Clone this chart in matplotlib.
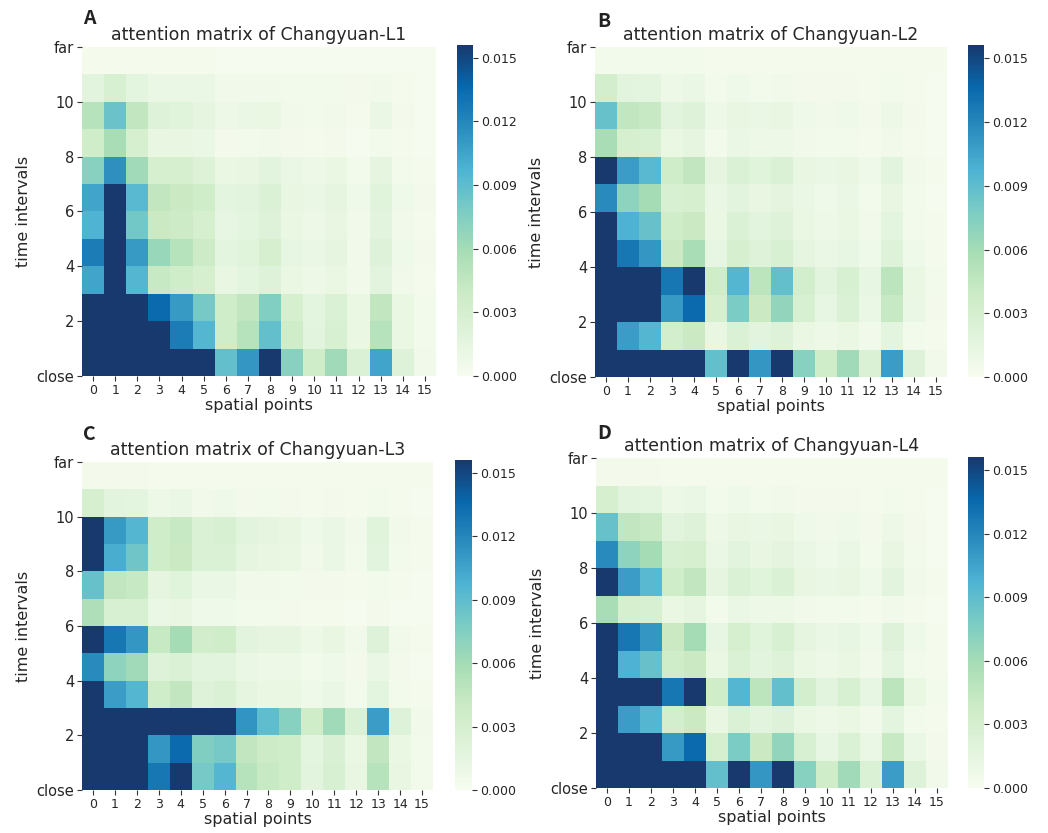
import numpy as np
import matplotlib
matplotlib.use("Agg")
from matplotlib import pyplot as plt
from matplotlib.colors import LinearSegmentedColormap

# attention weights (x 1e-3), rows listed top (far) -> bottom (close), cols = spatial points 0..15
attn_L1 = [
    [0.3, 0.3, 0.3, 0.3, 0.3, 0.3, 0.2, 0.2, 0.2, 0.2, 0.2, 0.2, 0.2, 0.2, 0.2, 0.2],
    [1.8, 2.8, 1.6, 1.0, 1.0, 1.0, 0.6, 0.6, 0.6, 0.5, 0.5, 0.5, 0.4, 0.6, 0.3, 0.2],
    [5.0, 8.5, 4.5, 2.2, 2.0, 1.5, 0.8, 1.0, 1.2, 0.6, 0.5, 0.6, 0.3, 1.0, 0.4, 0.2],
    [3.5, 5.8, 3.0, 1.3, 1.3, 1.0, 0.4, 0.5, 0.6, 0.4, 0.3, 0.4, 0.2, 0.5, 0.3, 0.2],
    [7.2, 11.5, 6.2, 3.0, 3.0, 2.3, 1.2, 1.3, 1.8, 1.0, 0.8, 1.2, 0.5, 1.5, 0.5, 0.3],
    [10.5, 18, 9.3, 4.5, 4.0, 3.5, 1.6, 1.8, 2.5, 1.3, 1.0, 1.5, 0.7, 2.0, 0.7, 0.4],
    [9.7, 18, 8.2, 4.0, 3.8, 3.0, 1.4, 1.6, 2.2, 1.2, 0.9, 1.3, 0.6, 1.8, 0.6, 0.3],
    [12.5, 18, 11.0, 6.5, 5.0, 3.8, 1.6, 2.0, 3.0, 1.4, 1.0, 1.5, 0.6, 2.2, 0.7, 0.4],
    [10.5, 18, 9.5, 4.2, 3.5, 3.0, 1.3, 1.6, 2.2, 1.2, 0.8, 1.2, 0.6, 1.8, 0.6, 0.3],
    [18, 18, 18, 13.5, 11.0, 8.0, 3.5, 4.5, 7.5, 3.0, 1.6, 2.5, 1.2, 4.5, 1.2, 0.5],
    [18, 18, 18, 18, 12.5, 9.5, 3.5, 5.0, 8.8, 3.5, 1.8, 2.8, 1.2, 5.0, 1.2, 0.5],
    [18, 18, 18, 18, 18, 18, 8.8, 11.2, 18, 7.2, 3.5, 6.2, 2.5, 10.5, 2.2, 0.6],
]
attn_L2 = [
    [0.5, 0.5, 0.5, 0.5, 0.5, 0.3, 0.3, 0.3, 0.3, 0.3, 0.3, 0.3, 0.3, 0.3, 0.3, 0.3],
    [3.2, 1.8, 1.6, 0.8, 1.0, 0.5, 0.7, 0.5, 0.6, 0.4, 0.4, 0.4, 0.3, 0.5, 0.3, 0.2],
    [8.7, 4.5, 4.2, 1.8, 2.2, 0.8, 1.3, 1.0, 1.3, 0.7, 0.6, 0.7, 0.4, 0.9, 0.4, 0.2],
    [5.8, 3.0, 2.8, 1.2, 1.5, 0.5, 1.0, 0.8, 0.9, 0.6, 0.5, 0.5, 0.3, 0.6, 0.3, 0.2],
    [18, 10.8, 9.3, 3.5, 4.5, 1.5, 2.5, 2.0, 2.5, 1.3, 1.0, 1.3, 0.7, 1.8, 0.6, 0.3],
    [11.8, 7.0, 6.0, 2.8, 3.0, 1.0, 1.8, 1.3, 1.7, 1.0, 0.7, 1.0, 0.5, 1.3, 0.5, 0.2],
    [18, 9.8, 8.6, 3.5, 4.0, 1.2, 2.5, 1.8, 2.2, 1.2, 0.9, 1.2, 0.6, 1.6, 0.5, 0.3],
    [18, 12.8, 11.2, 4.0, 5.8, 1.4, 3.0, 2.2, 2.8, 1.5, 1.0, 1.4, 0.7, 2.2, 0.7, 0.3],
    [18, 18, 18, 12.8, 18, 3.5, 9.5, 4.8, 8.8, 3.2, 1.8, 2.8, 1.4, 4.8, 1.2, 0.5],
    [18, 18, 18, 11.0, 13.5, 3.0, 7.8, 4.0, 6.8, 2.8, 1.4, 2.5, 1.0, 4.2, 1.0, 0.4],
    [18, 10.8, 9.5, 3.2, 4.0, 1.3, 2.5, 1.8, 2.2, 1.2, 0.8, 1.2, 0.6, 1.6, 0.5, 0.3],
    [18, 18, 18, 18, 18, 8.8, 18, 11.2, 18, 7.3, 3.5, 6.2, 2.5, 10.8, 2.2, 0.6],
]
attn_L3 = [
    [0.4, 0.4, 0.4, 0.3, 0.3, 0.3, 0.3, 0.3, 0.3, 0.3, 0.3, 0.3, 0.3, 0.3, 0.3, 0.3],
    [3.0, 1.8, 1.6, 0.8, 1.0, 0.6, 0.7, 0.4, 0.5, 0.4, 0.3, 0.4, 0.3, 0.5, 0.3, 0.2],
    [18, 11.0, 9.5, 3.5, 4.2, 2.5, 2.8, 1.8, 1.5, 1.3, 0.7, 1.1, 0.6, 2.0, 0.6, 0.3],
    [18, 10.0, 8.3, 3.5, 4.0, 2.5, 2.5, 1.5, 1.3, 1.2, 0.6, 1.0, 0.5, 1.8, 0.5, 0.3],
    [8.7, 4.5, 4.2, 1.5, 2.0, 1.0, 1.0, 0.6, 0.6, 0.5, 0.4, 0.4, 0.3, 0.5, 0.3, 0.2],
    [5.5, 2.8, 2.8, 1.0, 1.3, 0.7, 0.7, 0.5, 0.5, 0.4, 0.3, 0.3, 0.2, 0.4, 0.2, 0.2],
    [18, 12.8, 11.2, 4.2, 6.0, 3.3, 3.5, 1.8, 1.5, 1.5, 0.8, 1.3, 0.6, 2.2, 0.6, 0.3],
    [11.8, 7.0, 6.2, 2.2, 2.5, 1.8, 1.8, 1.0, 0.9, 0.9, 0.5, 0.7, 0.4, 1.1, 0.4, 0.2],
    [18, 10.8, 9.5, 3.5, 4.5, 2.2, 2.5, 1.5, 1.2, 1.2, 0.7, 1.0, 0.5, 1.6, 0.5, 0.3],
    [18, 18, 18, 18, 18, 18, 18, 11.3, 9.0, 7.3, 3.5, 6.2, 2.5, 10.8, 2.2, 0.6],
    [18, 18, 18, 11.2, 13.5, 7.6, 8.0, 4.5, 3.8, 3.5, 1.6, 2.6, 1.2, 4.5, 1.2, 0.5],
    [18, 18, 18, 12.8, 18, 8.0, 9.5, 5.0, 4.2, 3.5, 1.8, 2.8, 1.3, 5.0, 1.3, 0.5],
]
attn_L4 = [
    [0.4, 0.4, 0.4, 0.3, 0.3, 0.3, 0.3, 0.3, 0.3, 0.3, 0.3, 0.3, 0.3, 0.3, 0.3, 0.3],
    [3.0, 1.8, 1.6, 0.8, 1.0, 0.5, 0.7, 0.5, 0.6, 0.4, 0.4, 0.4, 0.3, 0.5, 0.3, 0.2],
    [8.7, 4.5, 4.2, 1.8, 2.2, 0.8, 1.3, 1.0, 1.3, 0.7, 0.6, 0.7, 0.4, 0.9, 0.4, 0.2],
    [11.8, 7.0, 6.0, 2.8, 3.0, 1.0, 1.8, 1.3, 1.7, 1.0, 0.7, 1.0, 0.5, 1.3, 0.5, 0.2],
    [18, 10.8, 9.3, 3.5, 4.5, 1.5, 2.5, 2.0, 2.5, 1.3, 1.0, 1.3, 0.7, 1.8, 0.6, 0.3],
    [5.8, 3.0, 2.8, 1.2, 1.5, 0.5, 1.0, 0.8, 0.9, 0.6, 0.5, 0.5, 0.3, 0.6, 0.3, 0.2],
    [18, 12.8, 11.2, 4.0, 6.0, 1.4, 3.0, 2.0, 2.8, 1.5, 1.0, 1.4, 0.7, 2.2, 0.7, 0.3],
    [18, 9.8, 8.6, 3.5, 4.0, 1.2, 2.5, 1.8, 2.2, 1.2, 0.9, 1.2, 0.6, 1.6, 0.5, 0.3],
    [18, 18, 18, 12.8, 18, 3.5, 9.5, 4.8, 8.8, 3.2, 1.8, 2.8, 1.4, 4.8, 1.2, 0.5],
    [18, 10.8, 9.5, 3.2, 4.0, 1.3, 2.5, 1.8, 2.2, 1.2, 0.8, 1.2, 0.6, 1.6, 0.5, 0.3],
    [18, 18, 18, 11.0, 13.5, 3.0, 7.8, 4.0, 6.8, 2.8, 1.4, 2.5, 1.0, 4.2, 1.0, 0.4],
    [18, 18, 18, 18, 18, 8.8, 18, 11.2, 18, 7.3, 3.5, 6.2, 2.5, 10.8, 2.2, 0.6],
]

panel_letters = ['A', 'B', 'C', 'D']
titles = ['attention matrix of Changyuan-L1', 'attention matrix of Changyuan-L2',
          'attention matrix of Changyuan-L3', 'attention matrix of Changyuan-L4']
x_ticklabels = [str(i) for i in range(16)]
y_ticklabels = ['close', '2', '4', '6', '8', '10', 'far']
cbar_ticks = [0.0, 0.003, 0.006, 0.009, 0.012, 0.015]
vmax = 0.0156

matrices = [attn_L1, attn_L2, attn_L3, attn_L4]

# GnBu with a slightly deeper navy end, as in the original figure
cmap = LinearSegmentedColormap.from_list(
    'gnbu_dark', ['#f7fcf0', '#e0f3db', '#ccebc5', '#a8ddb5', '#7bccc4',
                  '#4eb3d3', '#2b8cbe', '#0868ac', '#17396e'])

txt = '#262626'
plt.rcParams['text.color'] = txt
plt.rcParams['axes.labelcolor'] = txt
plt.rcParams['xtick.color'] = txt
plt.rcParams['ytick.color'] = txt

# axes boxes (fig fraction): heatmap, colorbar
boxes = [
    ([0.0782, 0.5486, 0.3378, 0.3950], [0.4361, 0.5486, 0.0153, 0.3974]),
    ([0.5677, 0.5474, 0.3359, 0.3962], [0.9237, 0.5474, 0.0153, 0.3980]),
    ([0.0782, 0.0516, 0.3350, 0.3938], [0.4342, 0.0516, 0.0162, 0.3960]),
    ([0.5687, 0.0540, 0.3359, 0.3960], [0.9237, 0.0540, 0.0153, 0.3970]),
]
letter_pos = [(0.079, 0.978), (0.570, 0.974), (0.079, 0.478), (0.570, 0.479)]

fig = plt.figure(figsize=(10.48, 8.33), dpi=100)

for k in range(4):
    data = np.flipud(np.array(matrices[k])) / 1000.0
    ax = fig.add_axes(boxes[k][0])
    cax = fig.add_axes(boxes[k][1])
    xe = np.arange(17) - 0.5
    ye = np.arange(13)
    mesh = ax.pcolormesh(xe, ye, data, cmap=cmap, vmin=0, vmax=vmax)
    ax.set_xlim(-0.5, 15.5)
    ax.set_ylim(0, 12)
    ax.set_xticks(range(16))
    ax.set_xticklabels(x_ticklabels, fontsize=9)
    ax.set_yticks([0, 2, 4, 6, 8, 10, 12])
    ax.set_yticklabels(y_ticklabels, fontsize=10.5)
    for s in ax.spines.values():
        s.set_visible(False)
    ax.tick_params(length=3.5, width=0.8, color='#333333', pad=2)
    ax.set_xlabel('spatial points', fontsize=11.5, labelpad=1)
    ax.set_ylabel('time intervals', fontsize=11.5, labelpad=4)
    ax.set_title(titles[k], fontsize=12.5, pad=5)

    cb = fig.colorbar(mesh, cax=cax)
    cb.outline.set_visible(False)
    cb.set_ticks(cbar_ticks)
    cb.set_ticklabels(['%.3f' % t for t in cbar_ticks])
    cax.tick_params(labelsize=9, length=3.5, width=0.8, color='#333333', pad=2)

    fig.text(letter_pos[k][0], letter_pos[k][1], panel_letters[k], fontsize=14,
             family=['Noto Sans CJK SC', 'DejaVu Sans'], fontweight='bold',
             ha='left', va='center', color='#222222')

fig.savefig('out.png', dpi=100)
